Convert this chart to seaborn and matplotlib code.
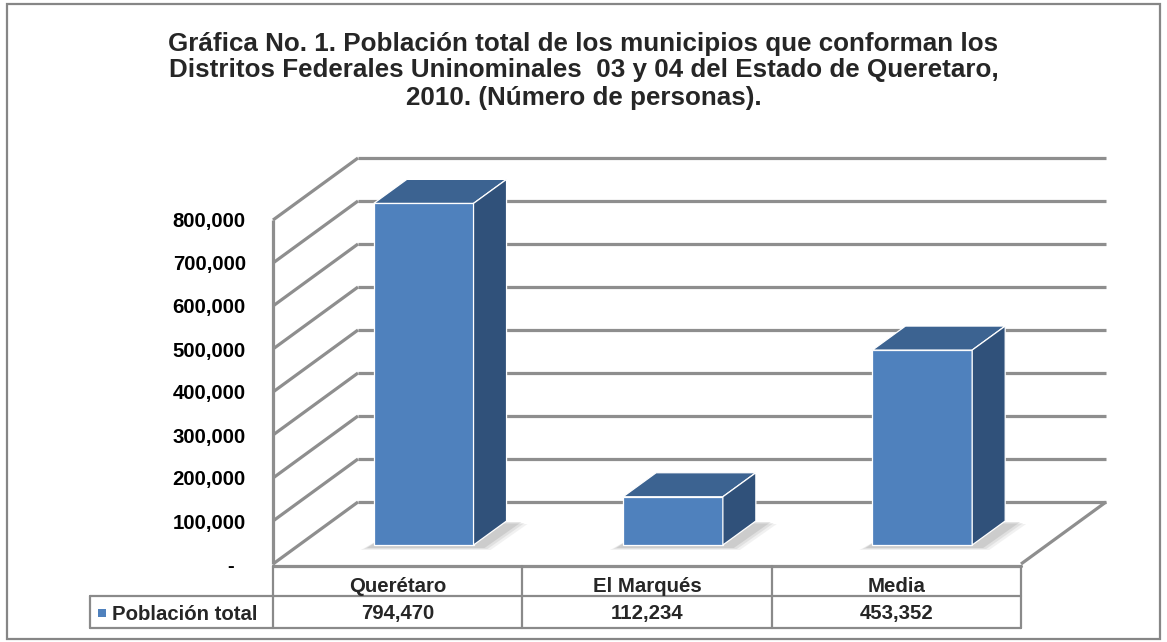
import numpy as np
import pandas as pd
import seaborn as sns
import matplotlib.pyplot as plt
from matplotlib.patches import Polygon, Rectangle
from matplotlib.lines import Line2D
from matplotlib.transforms import blended_transform_factory

# data
municipios = ["Querétaro", "El Marqués", "Media"]
poblacion = [794470, 112234, 453352]
serie = "Población total"
y_ticks = [0, 100000, 200000, 300000, 400000, 500000, 600000, 700000, 800000]
titulo_lineas = [
    "Gráfica No. 1. Población total de los municipios que conforman los",
    "Distritos Federales Uninominales  03 y 04 del Estado de Queretaro,",
    "2010. (Número de personas).",
]

front_c = "#4F81BD"
top_c = "#3C6391"
side_c = "#30517A"
grid_c = "#8E8E8E"
line_c = "#8A8A8A"

sns.set_theme(style="white")
plt.rcParams['font.family'] = ['Liberation Sans', 'DejaVu Sans']

W, H = 1167, 642
fig = plt.figure(figsize=(W / 100, H / 100), dpi=100)


def fx(px):
    return px / W


def fy(py):
    return (H - py) / H


# front plane of the 3d box
ax = fig.add_axes([fx(273), fy(564), fx(1021) - fx(273), fy(220) - fy(564)])
df = pd.DataFrame({"municipio": municipios, "poblacion": poblacion})
sns.barplot(data=df, x="municipio", y="poblacion", color=front_c, width=0.4,
            saturation=1, edgecolor="white", linewidth=0.9, ax=ax, zorder=5)
ax.set_xlim(-0.5, 2.5)
ax.set_ylim(0, 800000)
ax.set_facecolor("none")
for s in ax.spines.values():
    s.set_visible(False)

# pixel -> data units
ux = 3 / 748
uy = 800000 / 344
wx, wy = 85 * ux, 62 * uy      # wall depth
sx, sy = 26 * ux, 19 * uy      # bars sit mid-depth
bx, by = 33 * ux, 24 * uy      # bar depth

# walls and gridlines
x0, x1 = -0.5, 2.5
kw = dict(color=grid_c, lw=2.3, clip_on=False, zorder=1, solid_capstyle="butt")
for v in y_ticks:
    ax.plot([x0, x0 + wx], [v, v + wy], **kw)
    ax.plot([x0 + wx, x1 + wx], [v + wy, v + wy], **kw)
ax.plot([x0, x0], [0, y_ticks[-1]], **kw)
ax.plot([x1, x1 + wx], [0, wy], **kw)

# extrude the seaborn bars
for p in ax.patches:
    x, w, h = p.get_x(), p.get_width(), p.get_height()
    p.set_x(x + sx)
    p.set_y(sy)
    p.set_clip_on(False)
    xl, xr, yb, yt = x + sx, x + sx + w, sy, sy + h
    # soft shadow on the floor
    for k, a in enumerate([0.10, 0.14, 0.20]):
        g = 3 - k
        ax.add_patch(Polygon([(xl - (4 + 3 * g) * ux, yb - (2 + g) * uy),
                              (xr + (8 + 3 * g) * ux, yb - (2 + g) * uy),
                              (xr + bx + (12 + 3 * g) * ux, yb + by - g * uy),
                              (xl + bx, yb + by - g * uy)],
                             closed=True, fc="#7F7F7F", ec="none", alpha=a,
                             zorder=3, clip_on=False))
    ax.add_patch(Polygon([(xl, yt), (xr, yt), (xr + bx, yt + by), (xl + bx, yt + by)],
                         closed=True, fc=top_c, ec="white", lw=0.9, zorder=5, clip_on=False))
    ax.add_patch(Polygon([(xr, yb), (xr + bx, yb + by), (xr + bx, yt + by), (xr, yt)],
                         closed=True, fc=side_c, ec="white", lw=0.9, zorder=5, clip_on=False))

# y axis labels
ax.set_yticks(y_ticks)
ax.set_yticklabels(["-  "] + [f"{v:,}" for v in y_ticks[1:]],
                   fontsize=14.7, fontweight="bold", color="black")
ax.tick_params(axis="y", length=0, pad=19.5)
ax.set_xticks([])
ax.set_xlabel("")
ax.set_ylabel("")

# data table under the chart
tr = blended_transform_factory(ax.transData, fig.transFigure)
leg_x = x0 - 183 * ux
tkw = dict(color=line_c, lw=1.6, transform=tr, clip_on=False)
fig.add_artist(Line2D([x0, x1], [fy(565.5), fy(565.5)], color=grid_c, lw=2.3,
                      transform=tr, clip_on=False))
fig.add_artist(Line2D([leg_x, x1], [fy(596), fy(596)], **tkw))
fig.add_artist(Line2D([leg_x, x1], [fy(628), fy(628)], **tkw))
for xv in [x0, 0.5, 1.5, x1]:
    fig.add_artist(Line2D([xv, xv], [fy(566), fy(628)], **tkw))
fig.add_artist(Line2D([leg_x, leg_x], [fy(596), fy(628)], **tkw))

for i, (m, v) in enumerate(zip(municipios, poblacion)):
    fig.text(i, fy(591.5), m, transform=tr, ha="center", va="baseline",
             fontsize=14.7, fontweight="bold")
    fig.text(i, fy(619.5), f"{v:,}", transform=tr, ha="center", va="baseline",
             fontsize=14.7, fontweight="bold")
fig.add_artist(Rectangle((leg_x + 8 * ux, fy(617)), 8 * ux, fy(609) - fy(617),
                         transform=tr, fc=front_c, ec="none"))
fig.text(leg_x + 22 * ux, fy(619.5), serie, transform=tr, ha="left", va="baseline",
         fontsize=14.7, fontweight="bold")

# title
for k, linea in enumerate(titulo_lineas):
    fig.text(0.5, fy(50.5 + 27 * k), linea, ha="center", va="baseline",
             fontsize=18.7, fontweight="bold")

# chart frame
fig.add_artist(Rectangle((fx(7), fy(639)), fx(1160) - fx(7), fy(4) - fy(639),
                         transform=fig.transFigure, fill=False, ec="#868686", lw=1.6))

fig.savefig("out.png", dpi=100, facecolor="white")
